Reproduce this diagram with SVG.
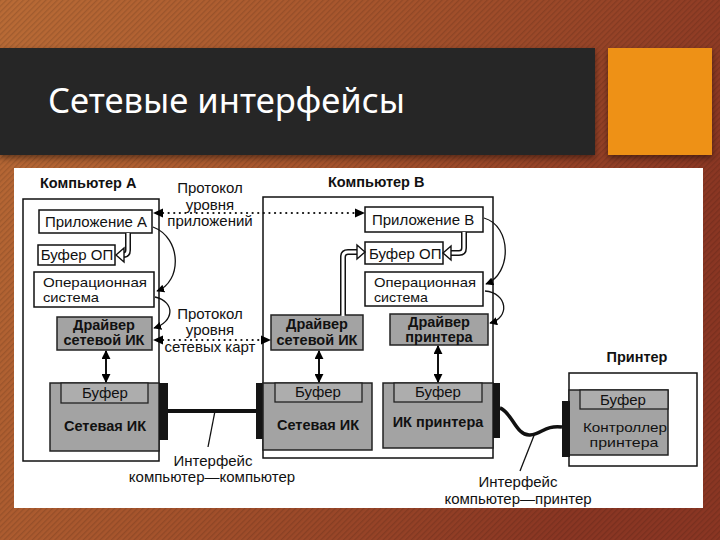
<svg xmlns="http://www.w3.org/2000/svg" width="720" height="540" viewBox="0 0 720 540">
<defs>
  <linearGradient id="bg" x1="0" y1="0" x2="1" y2="0.35">
    <stop offset="0" stop-color="#b96b36"/>
    <stop offset="0.5" stop-color="#a5532c"/>
    <stop offset="1" stop-color="#8a3623"/>
  </linearGradient>
  <pattern id="stripes" width="4" height="4" patternUnits="userSpaceOnUse" patternTransform="rotate(45)">
    <rect width="1.3" height="4" fill="#000" fill-opacity="0.12"/>
  </pattern>
  <marker id="ah" viewBox="0 0 10 10" refX="9" refY="5" markerWidth="8" markerHeight="8" orient="auto" markerUnits="userSpaceOnUse">
    <path d="M0,0 L10,5 L0,10 Z" fill="#000"/>
  </marker>
  <marker id="ahs" viewBox="0 0 10 10" refX="9" refY="5" markerWidth="9" markerHeight="9" orient="auto-start-reverse" markerUnits="userSpaceOnUse">
    <path d="M0,0 L10,5 L0,10 Z" fill="#000"/>
  </marker>
  <filter id="sh" x="-5%" y="-5%" width="110%" height="120%">
    <feDropShadow dx="0" dy="3" stdDeviation="3" flood-color="#000" flood-opacity="0.45"/>
  </filter>
</defs>
<style>
  .t{font-family:"Liberation Sans",Arial,sans-serif;font-size:15px;fill:#111}
  .b{font-weight:bold;font-size:14.5px}
  .m{font-size:13px}
  .c{text-anchor:middle}
  .box{fill:#fff;stroke:#111;stroke-width:1.5}
  .gray{fill:#a3a3a3;stroke:#222;stroke-width:1.5}
  .buf{fill:#adadad;stroke:#222;stroke-width:1.3}
  .frame{fill:none;stroke:#111;stroke-width:1.5}
  .blk{fill:#151515}
  .thin{fill:none;stroke:#111;stroke-width:1.3}
  .dot{fill:none;stroke:#111;stroke-width:2.2;stroke-dasharray:0.1 5.5;stroke-linecap:round}
  .hol-o{fill:none;stroke:#111;stroke-width:6}
  .hol-i{fill:none;stroke:#fff;stroke-width:3}
  .holh{fill:#fff;stroke:#111;stroke-width:1.4;stroke-linejoin:miter}
</style>

<!-- background -->
<rect width="720" height="540" fill="url(#bg)"/>
<rect width="720" height="540" fill="url(#stripes)"/>
<rect x="0" y="48" width="595" height="107" fill="#262626" filter="url(#sh)"/>
<rect x="608" y="48" width="104" height="107" fill="#ee9118" filter="url(#sh)"/>
<text x="48" y="113" font-family="'Noto Sans','Open Sans',sans-serif" font-size="34" fill="#fff" textLength="357" lengthAdjust="spacingAndGlyphs">Сетевые интерфейсы</text>

<!-- white panel -->
<rect x="14" y="168" width="689" height="340" fill="#fff"/>

<!-- frames -->
<g id="computerA">
  <rect class="frame" x="23" y="199" width="136" height="262"/>
  <text class="t b" x="40" y="188">Компьютер А</text>
</g>
<g id="computerB">
  <rect class="frame" x="263" y="197" width="230" height="261"/>
  <text class="t b" x="328" y="187">Компьютер В</text>
</g>
<g id="printer">
  <rect class="frame" x="569" y="373" width="128" height="93"/>
  <text class="t b c" x="637" y="362">Принтер</text>
</g>

<!-- Computer A nodes -->
<g id="appA">
  <rect class="box" x="39" y="210" width="113" height="23"/>
  <text class="t c" x="96" y="227">Приложение А</text>
</g>
<g id="bufA">
  <rect class="box" x="38" y="245" width="77" height="20"/>
  <text class="t c" x="77" y="260">Буфер ОП</text>
</g>
<g id="osA">
  <rect class="box" x="34" y="272" width="120" height="35"/>
  <text class="t m" x="43" y="287" textLength="104" lengthAdjust="spacingAndGlyphs">Операционная</text>
  <text class="t m" x="43" y="302" textLength="56" lengthAdjust="spacingAndGlyphs">система</text>
</g>
<g id="drvA">
  <rect class="gray" x="57" y="317" width="95" height="33"/>
  <text class="t b c" x="104" y="330">Драйвер</text>
  <text class="t b c" x="104" y="345">сетевой ИК</text>
</g>
<g id="nicA">
  <rect class="gray" x="50" y="383" width="109" height="68"/>
  <rect class="buf" x="61" y="383" width="87" height="20"/>
  <text class="t c" x="105" y="398">Буфер</text>
  <text class="t b c" x="105" y="431">Сетевая ИК</text>
  <rect class="blk" x="159" y="383" width="9" height="57"/>
</g>

<!-- Computer B nodes -->
<g id="appB">
  <rect class="box" x="365" y="207" width="118" height="25"/>
  <text class="t" x="372" y="225">Приложение В</text>
</g>
<g id="bufB">
  <rect class="box" x="365" y="242" width="78" height="22"/>
  <text class="t" x="369" y="259">Буфер ОП</text>
</g>
<g id="osB">
  <rect class="box" x="365" y="272" width="118" height="34"/>
  <text class="t m" x="374" y="287" textLength="102" lengthAdjust="spacingAndGlyphs">Операционная</text>
  <text class="t m" x="374" y="302" textLength="54" lengthAdjust="spacingAndGlyphs">система</text>
</g>
<g id="drvB">
  <rect class="gray" x="271" y="315" width="92" height="35"/>
  <text class="t b c" x="317" y="329">Драйвер</text>
  <text class="t b c" x="317" y="345">сетевой ИК</text>
</g>
<g id="drvP">
  <rect class="gray" x="390" y="314" width="98" height="31"/>
  <text class="t b c" x="439" y="327">Драйвер</text>
  <text class="t b c" x="439" y="342">принтера</text>
</g>
<g id="nicB">
  <rect class="blk" x="256" y="383" width="8" height="56"/>
  <rect class="gray" x="263" y="383" width="109" height="67"/>
  <rect class="buf" x="275" y="383" width="87" height="19"/>
  <text class="t c" x="318" y="397">Буфер</text>
  <text class="t b c" x="318" y="430">Сетевая ИК</text>
</g>
<g id="nicP">
  <rect class="gray" x="383" y="383" width="110" height="65"/>
  <rect class="buf" x="394" y="383" width="88" height="19"/>
  <text class="t c" x="438" y="397">Буфер</text>
  <text class="t b c" x="438" y="427">ИК принтера</text>
  <rect class="blk" x="493" y="383" width="7" height="55"/>
</g>

<!-- Printer node -->
<g id="ctrlP">
  <rect class="gray" x="569" y="390" width="99" height="65"/>
  <rect class="buf" x="580" y="390" width="88" height="19"/>
  <text class="t c" x="623" y="405">Буфер</text>
  <text class="t m c" x="625" y="432" textLength="84" lengthAdjust="spacingAndGlyphs">Контроллер</text>
  <text class="t m c" x="624" y="447" textLength="69" lengthAdjust="spacingAndGlyphs">принтера</text>
  <rect class="blk" x="562" y="401" width="8" height="56"/>
</g>

<!-- labels -->
<g id="labels">
  <text class="t c" x="210" y="193">Протокол</text>
  <text class="t c" x="210" y="210">уровня</text>
  <text class="t c" x="210" y="226">приложений</text>
  <text class="t c" x="210" y="319">Протокол</text>
  <text class="t c" x="210" y="335">уровня</text>
  <text class="t c" x="210" y="352">сетевых карт</text>
  <text class="t c" x="213" y="466">Интерфейс</text>
  <text class="t c" x="212" y="482">компьютер—компьютер</text>
  <text class="t c" x="518" y="487">Интерфейс</text>
  <text class="t c" x="518" y="504">компьютер—принтер</text>
</g>

<!-- connectors -->
<g id="connectors">
  <!-- protocol dotted lines -->
  <line class="dot" x1="163" y1="213" x2="357" y2="213"/>
  <path d="M153,213 L163,208.5 L163,217.5 Z" fill="#000"/>
  <path d="M365,213 L355,208.5 L355,217.5 Z" fill="#000"/>
  <line class="dot" x1="163" y1="340" x2="262" y2="340"/>
  <path d="M153,340 L163,335.5 L163,344.5 Z" fill="#000"/>
  <path d="M271,340 L261,335.5 L261,344.5 Z" fill="#000"/>

  <!-- hollow arrows -->
  <path class="hol-o" d="M128,233 V250 Q128,255 123,255 H122"/>
  <path class="hol-i" d="M128,233 V250 Q128,255 123,255 H121"/>
  <path class="holh" d="M116,255 L124,248 L124,262 Z"/>

  <path class="hol-o" d="M464,232 V248 Q464,253 459,253 H451"/>
  <path class="hol-i" d="M464,232 V248 Q464,253 459,253 H450"/>
  <path class="holh" d="M443,253 L451,246 L451,260 Z"/>

  <path class="hol-o" d="M343,315 V257 Q343,252 348,252 H357"/>
  <path class="hol-i" d="M343,316 V257 Q343,252 348,252 H358"/>
  <path class="holh" d="M365,252 L357,245 L357,259 Z"/>

  <!-- curved control arrows -->
  <path class="thin" d="M153,227 C182,238 182,282 157,291" marker-end="url(#ah)"/>
  <path class="thin" d="M155,297 C176,302 174,322 154,328" marker-end="url(#ah)"/>
  <path class="thin" d="M484,218 C512,226 512,274 486,284" marker-end="url(#ah)"/>
  <path class="thin" d="M485,291 C508,293 510,318 490,323" marker-end="url(#ah)"/>

  <!-- vertical double arrows -->
  <line x1="106" y1="351" x2="106" y2="382" stroke="#111" stroke-width="2" marker-start="url(#ahs)" marker-end="url(#ahs)"/>
  <line x1="319" y1="351" x2="319" y2="382" stroke="#111" stroke-width="2" marker-start="url(#ahs)" marker-end="url(#ahs)"/>
  <line x1="438" y1="346" x2="438" y2="382" stroke="#111" stroke-width="2" marker-start="url(#ahs)" marker-end="url(#ahs)"/>

  <!-- cables -->
  <line x1="168" y1="411" x2="256" y2="411" stroke="#111" stroke-width="4"/>
  <path d="M500,408 C512,412 516,436 530,435 C542,434 545,425 562,427" fill="none" stroke="#111" stroke-width="3.5"/>

  <!-- leaders -->
  <line class="thin" x1="215" y1="411" x2="208" y2="447"/>
  <line class="thin" x1="535" y1="433" x2="520" y2="471"/>
</g>
</svg>
